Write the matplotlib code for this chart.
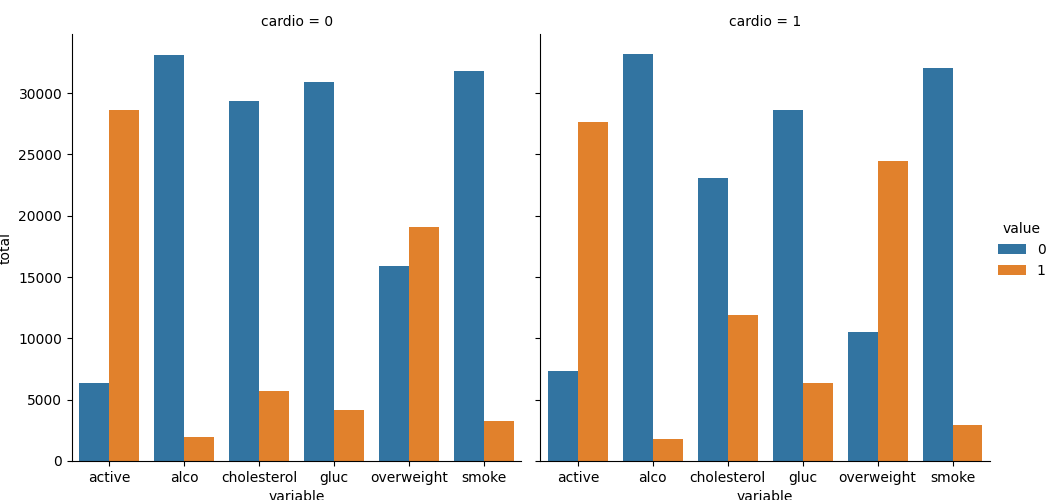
import pandas as pd
import matplotlib
matplotlib.use("Agg")
import matplotlib.pyplot as plt
import seaborn as sns

variables = ["active", "alco", "cholesterol", "gluc", "overweight", "smoke"]

# counts for cardio = 0
c0_value0 = [6378, 33080, 29330, 30894, 15915, 31781]
c0_value1 = [28643, 1941, 5691, 4127, 19106, 3240]

# counts for cardio = 1
c1_value0 = [7361, 33156, 23055, 28585, 10539, 32050]
c1_value1 = [27618, 1823, 11924, 6394, 24440, 2929]

rows = []
for cardio, v0, v1 in [(0, c0_value0, c0_value1), (1, c1_value0, c1_value1)]:
    for i, var in enumerate(variables):
        rows.append({"cardio": cardio, "variable": var, "value": 0, "total": v0[i]})
        rows.append({"cardio": cardio, "variable": var, "value": 1, "total": v1[i]})
df = pd.DataFrame(rows)

g = sns.catplot(data=df, x="variable", y="total", hue="value", col="cardio",
                kind="bar", order=variables)
g.fig.set_size_inches(10.58, 5)
g.fig.subplots_adjust(left=0.068, right=0.9357, bottom=0.078, top=0.932, wspace=0.0423)
g.fig.savefig("out.png", dpi=100)
